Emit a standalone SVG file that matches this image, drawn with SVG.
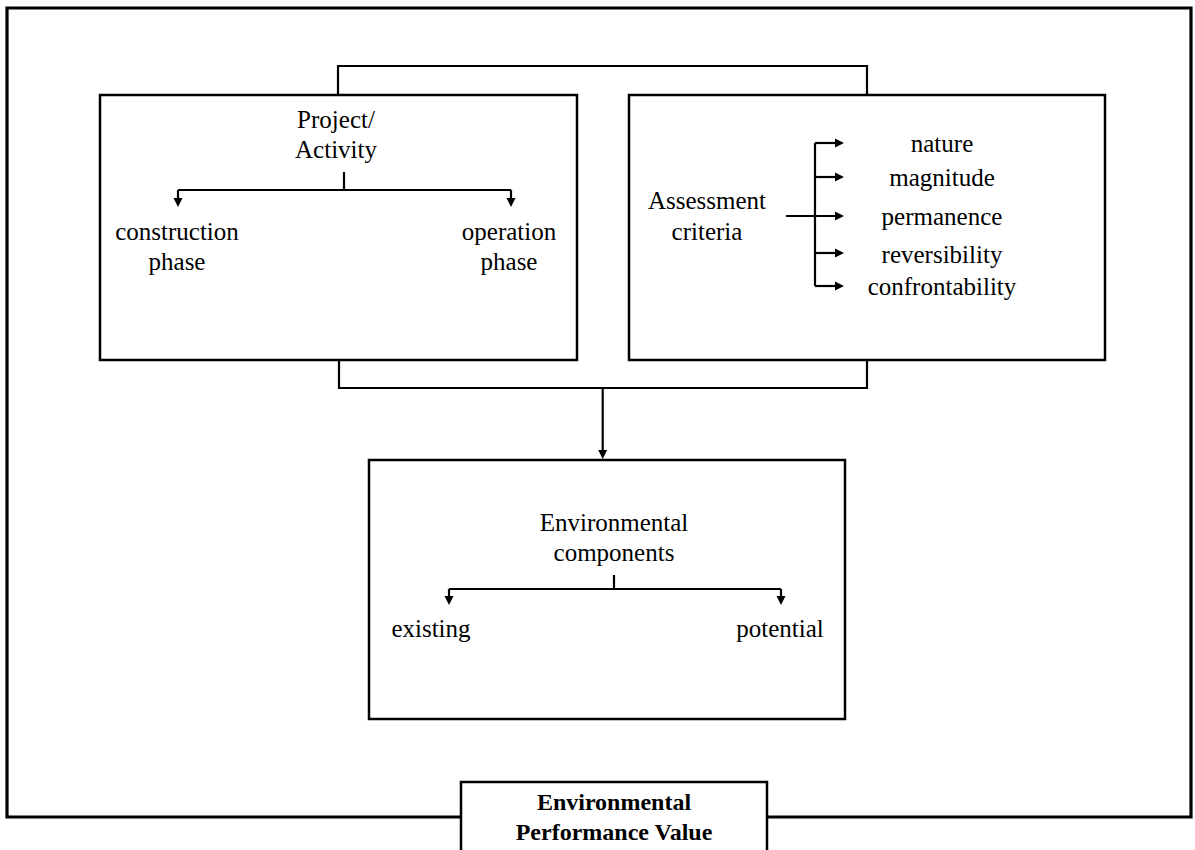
<svg xmlns="http://www.w3.org/2000/svg" width="1195" height="850" viewBox="0 0 1195 850">
<style>
.box{fill:#fff;stroke:#000;stroke-width:2.5}
.ln{fill:none;stroke:#000;stroke-width:2.2}
.t{font-family:"Liberation Serif","Times New Roman",serif;font-size:25px;fill:#000;text-anchor:middle}
.b{font-family:"Liberation Serif","Times New Roman",serif;font-size:24px;font-weight:bold;fill:#000;text-anchor:middle}
</style>
<defs>
<marker id="ah" viewBox="0 -5 10 10" refX="5" refY="0" markerWidth="10" markerHeight="10" markerUnits="userSpaceOnUse" orient="auto">
<path d="M0,-4.5 L9,0 L0,4.5 z" fill="#000"/>
</marker>
</defs>
<rect width="1195" height="850" fill="#fff"/>
<path id="frame" d="M461,817 H7 V8 H1191 V817 H767" fill="none" stroke="#000" stroke-width="3.2"/>
<g id="connectors">
<path class="ln" d="M338,95 V66 H867 V95"/>
<path class="ln" d="M339,360 V388 H867 V360"/>
<path class="ln" d="M602.7,388 V455" marker-end="url(#ah)"/>
<path class="ln" d="M344,172 V190"/>
<path class="ln" d="M178,190 H511"/>
<path class="ln" d="M178,190 V203" marker-end="url(#ah)"/>
<path class="ln" d="M511,190 V203" marker-end="url(#ah)"/>
<path class="ln" d="M815,143 V286"/>
<path class="ln" d="M815,143 H840" marker-end="url(#ah)"/>
<path class="ln" d="M815,177 H840" marker-end="url(#ah)"/>
<path class="ln" d="M786,216 H840" marker-end="url(#ah)"/>
<path class="ln" d="M815,253 H840" marker-end="url(#ah)"/>
<path class="ln" d="M815,286 H840" marker-end="url(#ah)"/>
<path class="ln" d="M614,575 V589"/>
<path class="ln" d="M449,589 H781"/>
<path class="ln" d="M449,589 V601" marker-end="url(#ah)"/>
<path class="ln" d="M781,589 V601" marker-end="url(#ah)"/>
</g>
<g id="project">
<rect class="box" x="100" y="95" width="477" height="265" fill="none" style="fill:none"/>
<text class="t" x="336" y="128">Project/</text>
<text class="t" x="336" y="158">Activity</text>
<text class="t" x="177" y="240">construction</text>
<text class="t" x="177" y="270">phase</text>
<text class="t" x="509" y="240">operation</text>
<text class="t" x="509" y="270">phase</text>
</g>
<g id="assessment">
<rect class="box" x="629" y="95" width="476" height="265" style="fill:none"/>
<text class="t" x="707" y="209">Assessment</text>
<text class="t" x="707" y="240">criteria</text>
<text class="t" x="942" y="152">nature</text>
<text class="t" x="942" y="186">magnitude</text>
<text class="t" x="942" y="225">permanence</text>
<text class="t" x="942" y="263">reversibility</text>
<text class="t" x="942" y="295">confrontability</text>
</g>
<g id="components">
<rect class="box" x="369" y="460" width="476" height="259" style="fill:none"/>
<text class="t" x="614" y="531">Environmental</text>
<text class="t" x="614" y="561">components</text>
<text class="t" x="431" y="637">existing</text>
<text class="t" x="780" y="637">potential</text>
</g>
<g id="epv">
<rect class="box" x="461" y="782" width="306" height="80" stroke-width="3"/>
<text class="b" x="614" y="810">Environmental</text>
<text class="b" x="614" y="840">Performance Value</text>
</g>
</svg>
